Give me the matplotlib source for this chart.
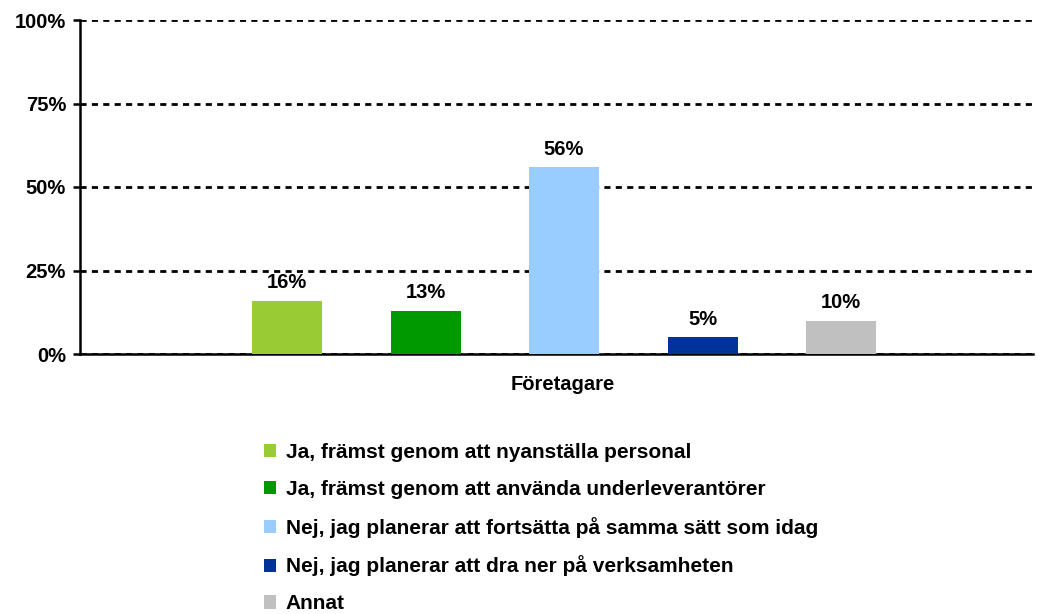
import numpy as np
import matplotlib.pyplot as plt
from matplotlib.patches import Patch

plt.rcParams['font.family'] = ['Liberation Sans', 'DejaVu Sans']
plt.rcParams['font.weight'] = 'bold'

category = "Företagare"
labels = [
    "Ja, främst genom att nyanställa personal",
    "Ja, främst genom att använda underleverantörer",
    "Nej, jag planerar att fortsätta på samma sätt som idag",
    "Nej, jag planerar att dra ner på verksamheten",
    "Annat",
]
values = [16, 13, 56, 5, 10]
colors = ["#99CC33", "#009900", "#99CCFF", "#003399", "#C0C0C0"]

fig = plt.figure(figsize=(10.42, 6.14), dpi=100)
ax = fig.add_axes([80 / 1042, 1 - 354 / 614, 953 / 1042, 334 / 614])

x = np.arange(len(values))
bars = ax.bar(x, values, width=0.505, color=colors, zorder=3)

for xi, v in zip(x, values):
    ax.annotate(f"{v}%", (xi, v), xytext=(0, 6), textcoords="offset points",
                ha="center", va="bottom", fontsize=14.5, fontweight="bold")

ax.set_xlim(-1.495, 5.386)
ax.set_ylim(0, 100)
ax.set_yticks([0, 25, 50, 75, 100])
ax.set_yticklabels([f"{t}%" for t in [0, 25, 50, 75, 100]], fontsize=14.5, fontweight="bold")
ax.set_xticks([(563 - 287) / 138.5])
ax.set_xticklabels([category], fontsize=14.5, fontweight="bold")
ax.tick_params(axis="x", length=0, pad=15)
ax.tick_params(axis="y", length=5, width=1.8, pad=5)

for s in ["top", "right"]:
    ax.spines[s].set_visible(False)
ax.spines["left"].set_linewidth(1.8)
ax.spines["bottom"].set_linewidth(1.8)

ax.yaxis.grid(True, color="black", linestyle=(0, (2.2, 1.9)), linewidth=2, zorder=0)

handles = [Patch(facecolor=c, edgecolor="none") for c in colors]
fig.legend(handles, labels, loc="upper left", bbox_to_anchor=(245 / 1042, 1 - 424 / 614),
           frameon=False, handlelength=0.6, handleheight=0.6,
           handletextpad=0.45, labelspacing=0.86, prop={"weight": "bold", "size": 15})

fig.savefig("out.png", dpi=100)
